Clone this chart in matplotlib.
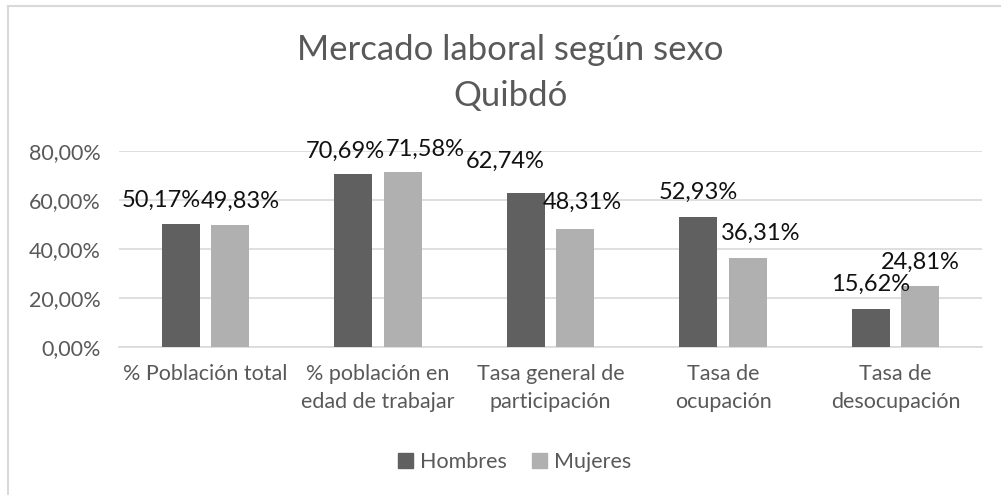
import numpy as np
import matplotlib
matplotlib.use("Agg")
import matplotlib.pyplot as plt
from matplotlib.lines import Line2D

plt.rcParams['font.family'] = ['Lato', 'DejaVu Sans']

# Data
categories = ["% Población total", "% población en\nedad de trabajar",
              "Tasa general de\nparticipación", "Tasa de\nocupación",
              "Tasa de\ndesocupación"]
hombres = [50.17, 70.69, 62.74, 52.93, 15.62]
mujeres = [49.83, 71.58, 48.31, 36.31, 24.81]
yticks = [0, 20, 40, 60, 80]

# label nudges (pixels) to mimic the hand-placed labels of the original
hombresOffset = [(-19, 24), (-8, 22), (-21, 32), (0, 25), (0, 24)]
mujeresOffset = [(10, 24), (23, 22), (7, 26), (13, 25), (0, 24)]

darkGray = "#606060"
lightGray = "#b0b0b0"
textGray = "#595959"

fig = plt.figure(figsize=(10.01, 4.95), dpi=100)
ax = fig.add_axes([0.119, 0.299, 0.862, 0.396])

x = np.arange(len(categories))
barWidth = 0.22
shift = 0.143

barsH = ax.bar(x - shift, hombres, barWidth, color=darkGray, zorder=3)
barsM = ax.bar(x + shift, mujeres, barWidth, color=lightGray, zorder=3)

# Value labels
def fmt(v):
    return ("%.2f%%" % v).replace(".", ",")

for bars, vals, offs in [(barsH, hombres, hombresOffset), (barsM, mujeres, mujeresOffset)]:
    for b, v, o in zip(bars, vals, offs):
        ax.annotate(fmt(v), (b.get_x() + b.get_width() / 2, v),
                    xytext=o, textcoords="offset pixels",
                    ha="center", va="center", fontsize=17, color="#111111",
                    zorder=5)

ax.set_xlim(-0.5, len(categories) - 0.5)
ax.set_ylim(0, 80)
ax.set_yticks(yticks)
ax.set_yticklabels([("%.2f%%" % t).replace(".", ",") for t in yticks])
ax.set_xticks(x)
ax.set_xticklabels(categories, linespacing=1.55)

ax.tick_params(axis="both", length=0, labelcolor=textGray, labelsize=15.5)
ax.tick_params(axis="x", pad=12)
ax.tick_params(axis="y", pad=13)
ax.grid(axis="y", color="#d9d9d9", lw=1.2, zorder=0)
for s in ["top", "right", "left"]:
    ax.spines[s].set_visible(False)
ax.spines["bottom"].set_color("#d9d9d9")
ax.spines["bottom"].set_linewidth(1.2)

# Title
fig.text(0.51, 0.853, "Mercado laboral según sexo\nQuibdó", ha="center", va="center",
         fontsize=25, color=textGray, linespacing=1.55)

# Legend
handles = [plt.Rectangle((0, 0), 1, 1, color=darkGray),
           plt.Rectangle((0, 0), 1, 1, color=lightGray)]
fig.legend(handles, ["Hombres", "Mujeres"], loc="center", bbox_to_anchor=(0.514, 0.067),
           ncol=2, frameon=False, fontsize=15.5, labelcolor=textGray,
           handlelength=0.7, handleheight=0.7, handletextpad=0.3, columnspacing=1.2)

# Chart frame (only top and left visible in the original crop)
fig.add_artist(Line2D([0.008, 0.008], [0, 0.988], transform=fig.transFigure,
                      color="#d9d9d9", lw=1.5))
fig.add_artist(Line2D([0.008, 1.0], [0.988, 0.988], transform=fig.transFigure,
                      color="#d9d9d9", lw=1.5))

fig.savefig("out.png", dpi=100)
